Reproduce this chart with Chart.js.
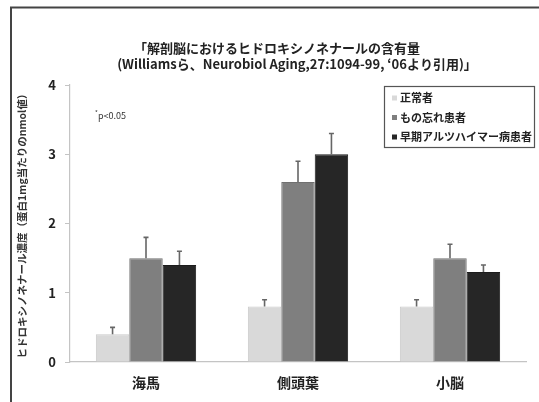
<!DOCTYPE html>
<html lang="ja">
<head>
<meta charset="utf-8">
<title>解剖脳におけるヒドロキシノネナールの含有量</title>
<script src="https://cdn.jsdelivr.net/npm/chart.js@4.4.1/dist/chart.umd.min.js"></script>
<style>
  html, body { margin: 0; padding: 0; background: #fff; }
  canvas { display: block; }
</style>
</head>
<body>
<canvas id="c" width="539" height="402"></canvas>
<script>
// Brain regions
const categories = ['海馬', '側頭葉', '小脳'];
// Group labels
const seriesNames = ['正常者', 'もの忘れ患者', '早期アルツハイマー病患者'];
// Mean HNE content (nmol per mg protein)
const normalValues = [0.4, 0.8, 0.8];
const mciValues = [1.5, 2.6, 1.5];
const adValues = [1.4, 3.0, 1.3];
// Upper error (SE)
const normalErr = [0.1, 0.1, 0.1];
const mciErr = [0.3, 0.3, 0.2];
const adErr = [0.2, 0.3, 0.1];
// Value axis ticks
const yTicks = [0, 1, 2, 3, 4];

const titleLines = ['「解剖脳におけるヒドロキシノネナールの含有量', '(Williamsら、Neurobiol Aging,27:1094-99, ‘06より引用)」'];
const yTitle = 'ヒドロキシノネナール濃度（蛋白1mg当たりのnmol値）';
const noteText = 'p<0.05';

const JP = '"Noto Sans CJK JP", "Noto Sans", sans-serif';
const fills = ['#d9d9d9', '#7f7f7f', '#262626'];
const edges = ['#cacaca', '#707070', '#1c1c1c'];

// Upward error whiskers drawn from each bar's own element
const errorBars = {
  id: 'errorBars',
  afterDatasetsDraw(chart) {
    const ctx = chart.ctx;
    const y = chart.scales.y;
    ctx.save();
    ctx.strokeStyle = '#666';
    ctx.lineWidth = 1.6;
    chart.data.datasets.forEach((ds, i) => {
      const meta = chart.getDatasetMeta(i);
      meta.data.forEach((bar, j) => {
        const top = y.getPixelForValue(ds.data[j]);
        const end = y.getPixelForValue(ds.data[j] + ds.errUp[j]);
        ctx.beginPath();
        ctx.moveTo(bar.x, top);
        ctx.lineTo(bar.x, end);
        ctx.moveTo(bar.x - 2.5, end);
        ctx.lineTo(bar.x + 2.5, end);
        ctx.stroke();
      });
    });
    ctx.restore();
  }
};

// Frame, title, significance note and boxed legend
const decorations = {
  id: 'decorations',
  afterDraw(chart) {
    const ctx = chart.ctx;
    ctx.save();
    // frame
    ctx.strokeStyle = '#444';
    ctx.lineWidth = 2;
    ctx.beginPath();
    ctx.moveTo(11, 402);
    ctx.lineTo(11, 7.5);
    ctx.lineTo(539, 7.5);
    ctx.stroke();

    // title
    ctx.fillStyle = '#222';
    ctx.textBaseline = 'middle';
    ctx.textAlign = 'center';
    ctx.font = 'bold 13px ' + JP;
    ctx.fillText(titleLines[0], 277, 48);
    ctx.font = 'bold 13px ' + JP;
    ctx.fillText(titleLines[1], 297, 64);

    // note
    ctx.textAlign = 'left';
    ctx.font = '9px ' + JP;
    ctx.fillStyle = '#333';
    ctx.fillText(noteText, 98, 116);
    ctx.font = '6px ' + JP;
    ctx.fillText('*', 95, 113);

    // legend
    ctx.strokeStyle = '#555';
    ctx.lineWidth = 1.2;
    ctx.strokeRect(384.5, 86.5, 150, 61);
    ctx.font = 'bold 11px ' + JP;
    chart.data.datasets.forEach((ds, i) => {
      const cy = 98 + i * 19.5;
      ctx.fillStyle = ds.backgroundColor;
      ctx.fillRect(392, cy - 2.5, 5, 5);
      ctx.fillStyle = '#222';
      ctx.fillText(ds.label, 400, cy);
    });
    ctx.restore();
  }
};

const datasets = [
  { label: seriesNames[0], data: normalValues, errUp: normalErr },
  { label: seriesNames[1], data: mciValues, errUp: mciErr },
  { label: seriesNames[2], data: adValues, errUp: adErr }
].map((d, i) => Object.assign(d, {
  backgroundColor: fills[i],
  borderColor: edges[i],
  borderWidth: 1,
  barPercentage: 1,
  categoryPercentage: 0.66
}));

new Chart(document.getElementById('c'), {
  type: 'bar',
  data: { labels: categories, datasets },
  options: {
    responsive: false,
    animation: false,
    layout: { padding: { left: 0, top: 85, right: 13, bottom: 0 } },
    plugins: {
      legend: { display: false },
      title: { display: false },
      tooltip: { enabled: false }
    },
    scales: {
      x: {
        afterFit(s) { s.height = 40; },
        grid: { display: false, drawTicks: false },
        border: { color: '#c4c4c4', width: 1.2 },
        ticks: {
          padding: 12,
          color: '#222',
          font: { family: JP, size: 14, weight: 'bold' }
        }
      },
      y: {
        min: 0,
        max: 4,
        afterFit(s) { s.width = 70; },
        afterBuildTicks(s) { s.ticks = yTicks.map(v => ({ value: v })); },
        grid: { drawOnChartArea: false, tickLength: 5, color: '#c4c4c4' },
        border: { color: '#c4c4c4', width: 1.2 },
        ticks: {
          padding: 9,
          color: '#222',
          font: { family: JP, size: 13, weight: 'bold' }
        },
        title: {
          display: true,
          text: yTitle,
          color: '#333',
          padding: { top: 16, bottom: 0 },
          font: { family: JP, size: 10.5, weight: 'bold' }
        }
      }
    }
  },
  plugins: [errorBars, decorations]
});
</script>
</body>
</html>
